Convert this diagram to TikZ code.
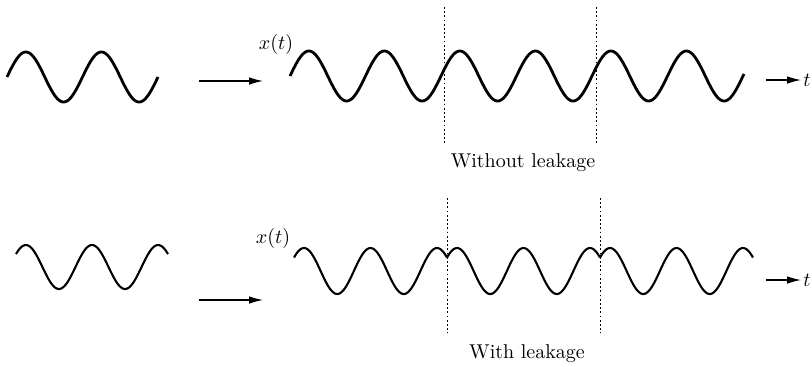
\documentclass[tikz,border=0pt]{standalone}
\usetikzlibrary{arrows.meta}

\begin{document}
\begin{tikzpicture}[
    x=0.5pt, y=-0.5pt,
    wave/.style={line width=1.4pt, line join=round},
    lwave/.style={line width=1.05pt, line join=round},
    arr/.style={-{Latex[length=7pt, width=3.8pt]}, line width=0.6pt},
    cut/.style={line width=0.5pt, dash pattern=on 0.9pt off 1.2pt},
    lbl/.style={font=\normalsize, inner sep=1pt},
  ]
    \useasboundingbox (0,0) rectangle (812,366);

    % without leakage
    \draw[wave] plot[domain=7:158, samples=120] (\x, {77-25*sin((\x-7)/75.5*360)});
    \coordinate (a1s) at (199,81);
    \coordinate (a1e) at (263,81);
    \draw[arr] (a1s) -- (a1e);
    \node[lbl] (xtop) at (276,44) {$x(t)$};
    \draw[wave] plot[domain=290:744, samples=360] (\x, {76-25*sin((\x-290)/75.5*360)});
    \coordinate (c1t) at (444,7);
    \coordinate (c1b) at (444,143);
    \coordinate (c2t) at (596,7);
    \coordinate (c2b) at (596,143);
    \draw[cut] (c1t) -- (c1b);
    \draw[cut] (c2t) -- (c2b);
    \coordinate (ta) at (766,80);
    \node[lbl, anchor=west] (ttop) at (801,80) {$t$};
    \draw[arr] (ta) -- (ttop);
    \node[lbl, anchor=base] (capA) at (523,167) {Without leakage};

    % with leakage
    \draw[lwave] plot[domain=16:168, samples=120] (\x, {267-22*cos((\x-92)/66.1*360)});
    \coordinate (a2s) at (199,300);
    \coordinate (a2e) at (263,300);
    \draw[arr] (a2s) -- (a2e);
    \node[lbl] (xbot) at (273,238) {$x(t)$};
    \foreach \s in {294,447,600} {
      \draw[lwave] plot[domain=\s:\s+153, samples=120] (\x, {271-23*cos((\x-\s-76.5)/66.5*360)});
    }
    \coordinate (c3t) at (447,198);
    \coordinate (c3b) at (447,333);
    \coordinate (c4t) at (600,198);
    \coordinate (c4b) at (600,333);
    \draw[cut] (c3t) -- (c3b);
    \draw[cut] (c4t) -- (c4b);
    \coordinate (tb) at (766,280);
    \node[lbl, anchor=west] (tbot) at (801,280) {$t$};
    \draw[arr] (tb) -- (tbot);
    \node[lbl, anchor=base] (capB) at (527,358) {With leakage};
\end{tikzpicture}
\end{document}
